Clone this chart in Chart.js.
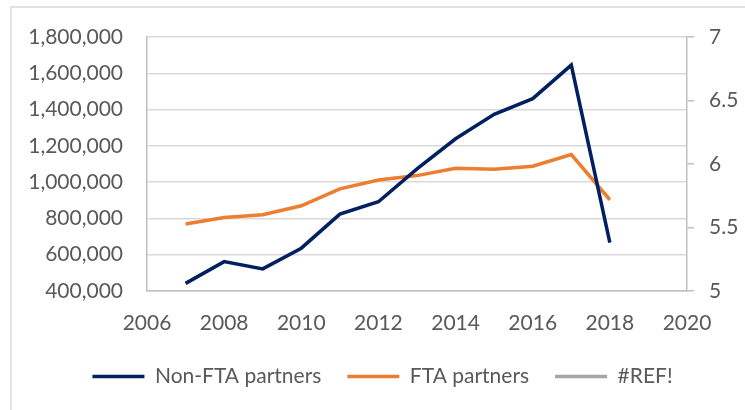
<!DOCTYPE html>
<html>
<head>
<meta charset="utf-8">
<script src="https://cdn.jsdelivr.net/npm/chart.js@4/dist/chart.umd.min.js"></script>
<style>
  html, body { margin: 0; padding: 0; background: #fff; }
  #wrap { width: 745px; height: 410px; position: relative; }
</style>
</head>
<body>
<div id="wrap"><canvas id="tradeChart"></canvas></div>
<script>
const years = [2007, 2008, 2009, 2010, 2011, 2012, 2013, 2014, 2015, 2016, 2017, 2018];
const nonFtaValues = [442000, 562000, 522000, 636000, 824000, 892000, 1073000, 1239000, 1374000, 1460000, 1645000, 667000];
const ftaValues = [769000, 805000, 820000, 870000, 963000, 1012000, 1036000, 1077000, 1071000, 1088000, 1152000, 903000];
const refValues = [];
const xTicks = [2006, 2008, 2010, 2012, 2014, 2016, 2018, 2020];
const leftTicks = [400000, 600000, 800000, 1000000, 1200000, 1400000, 1600000, 1800000];
const rightTicks = [5, 5.5, 6, 6.5, 7];

const toPoints = vals => vals.map((v, i) => ({ x: years[i], y: v }));

const textColor = '#595959';
const font = { family: 'Lato', size: 21 };
const legendGap = 26;

// light frame of the chart object (top + left edges visible)
const framePlugin = {
  id: 'frame',
  beforeDraw(chart) {
    const ctx = chart.ctx;
    ctx.save();
    ctx.fillStyle = '#fff';
    ctx.fillRect(0, 0, chart.width, chart.height);
    ctx.strokeStyle = '#d9d9d9';
    ctx.lineWidth = 1.5;
    ctx.beginPath();
    ctx.moveTo(11, chart.height);
    ctx.lineTo(11, 7);
    ctx.lineTo(chart.width, 7);
    ctx.stroke();
    ctx.restore();
  },
  // legend in the original sits a little right of centre
  afterLayout(chart) {
    chart.legend.left += 10;
    chart.legend.right += 10;
  }
};

new Chart(document.getElementById('tradeChart'), {
  type: 'line',
  data: {
    datasets: [
      {
        label: 'Non-FTA partners',
        data: toPoints(nonFtaValues),
        borderColor: '#002060',
        backgroundColor: '#002060',
        borderWidth: 3.5,
        pointRadius: 0,
        yAxisID: 'y'
      },
      {
        label: 'FTA partners',
        data: toPoints(ftaValues),
        borderColor: '#ED7D31',
        backgroundColor: '#ED7D31',
        borderWidth: 3.5,
        pointRadius: 0,
        yAxisID: 'y'
      },
      {
        label: '#REF!',
        data: toPoints(refValues),
        borderColor: '#A5A5A5',
        backgroundColor: '#A5A5A5',
        borderWidth: 3.5,
        pointRadius: 0,
        yAxisID: 'y2'
      }
    ]
  },
  options: {
    responsive: true,
    maintainAspectRatio: false,
    animation: false,
    layout: { padding: { top: 37, left: 0, right: 0, bottom: 13 } },
    plugins: {
      tooltip: { enabled: false },
      legend: {
        position: 'bottom',
        labels: {
          color: textColor,
          font: font,
          usePointStyle: true,
          pointStyle: 'line',
          pointStyleWidth: 52,
          padding: legendGap
        }
      }
    },
    scales: {
      x: {
        type: 'linear',
        min: 2006,
        max: 2020,
        afterBuildTicks: axis => { axis.ticks = xTicks.map(v => ({ value: v })); },
        grid: { display: false },
        border: { color: '#bfbfbf', width: 1.5 },
        ticks: {
          color: textColor,
          font: font,
          padding: 12,
          maxRotation: 0,
          callback: v => String(v)
        },
        afterFit: axis => { axis.height = 75 - legendGap; }
      },
      y: {
        position: 'left',
        min: 400000,
        max: 1800000,
        afterBuildTicks: axis => { axis.ticks = leftTicks.map(v => ({ value: v })); },
        grid: { color: '#d9d9d9', lineWidth: 1.5, drawTicks: false },
        border: { color: '#bfbfbf', width: 1.5 },
        ticks: {
          color: textColor,
          font: font,
          padding: 24,
          callback: v => v.toLocaleString('en-US')
        },
        afterFit: axis => { axis.width = 147; }
      },
      y2: {
        position: 'right',
        min: 5,
        max: 7,
        afterBuildTicks: axis => { axis.ticks = rightTicks.map(v => ({ value: v })); },
        grid: { drawOnChartArea: false, color: '#bfbfbf', lineWidth: 1.5, tickLength: 7 },
        border: { color: '#bfbfbf', width: 1.5 },
        ticks: {
          color: textColor,
          font: font,
          padding: 15,
          callback: v => String(v)
        },
        afterFit: axis => { axis.width = 58; }
      }
    }
  },
  plugins: [framePlugin]
});
</script>
</body>
</html>
